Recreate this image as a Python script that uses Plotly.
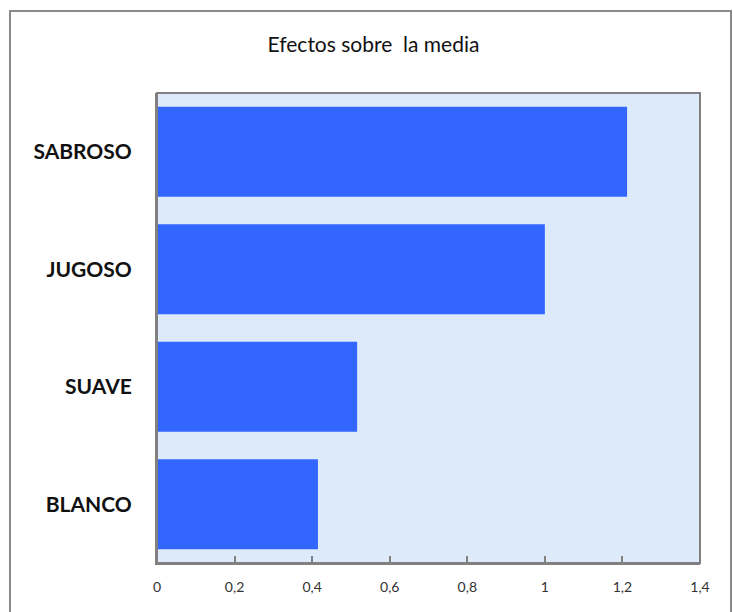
import plotly.graph_objects as go

categories = ["BLANCO", "SUAVE", "JUGOSO", "SABROSO"]
values = [0.415, 0.516, 1.0, 1.212]
tick_vals = [0, 0.2, 0.4, 0.6, 0.8, 1.0, 1.2, 1.4]
tick_text = ["0", "0,2", "0,4", "0,6", "0,8", "1", "1,2", "1,4"]

W, H = 733, 612
L, R, T, B = 157, 33, 93, 49
pw, ph = W - L - R, H - T - B

def px_x(x):
    return (x - L) / pw

def px_y(y):
    return (H - B - y) / ph

fig = go.Figure(go.Bar(
    x=values, y=categories, orientation="h",
    marker=dict(color="#3366FF", line=dict(width=0)),
    hoverinfo="skip",
))

fig.update_layout(
    width=W, height=H,
    margin=dict(l=L, r=R, t=T, b=B),
    paper_bgcolor="white",
    plot_bgcolor="#DCEAF9",
    bargap=0.234,
    showlegend=False,
    font=dict(family="Lato", color="#222222"),
    title=dict(text="Efectos sobre  la media", x=px_x(373.5), xref="paper",
               xanchor="center", y=1 - 45 / H, yanchor="middle",
               font=dict(family="Lato", size=21, color="#111111")),
    xaxis=dict(range=[0, 1.4], tickvals=tick_vals, ticktext=tick_text,
               showgrid=False, zeroline=False, showline=True, linecolor="#808080",
               linewidth=2, ticks="inside", ticklen=7, tickcolor="#808080", tickwidth=1.5,
               ticklabelstandoff=10,
               tickfont=dict(family="Lato", size=14, color="#333333"), fixedrange=True),
    yaxis=dict(showgrid=False, zeroline=False, showline=True, linecolor="#808080",
               linewidth=2, ticks="", ticklabelstandoff=19,
               tickfont=dict(family="Lato", size=21, color="#111111"),
               categoryorder="array", categoryarray=categories, fixedrange=True),
    shapes=[
        dict(type="rect", xref="paper", yref="paper",
             x0=0, x1=1, y0=0, y1=1, line=dict(color="#808080", width=2), layer="above"),
        dict(type="rect", xref="paper", yref="paper",
             x0=px_x(10), x1=px_x(731), y0=px_y(630), y1=px_y(11),
             line=dict(color="#8a8a8a", width=2)),
    ],
)
fig.update_yaxes(tickfont_weight="bold")

fig.write_html("out.html")
